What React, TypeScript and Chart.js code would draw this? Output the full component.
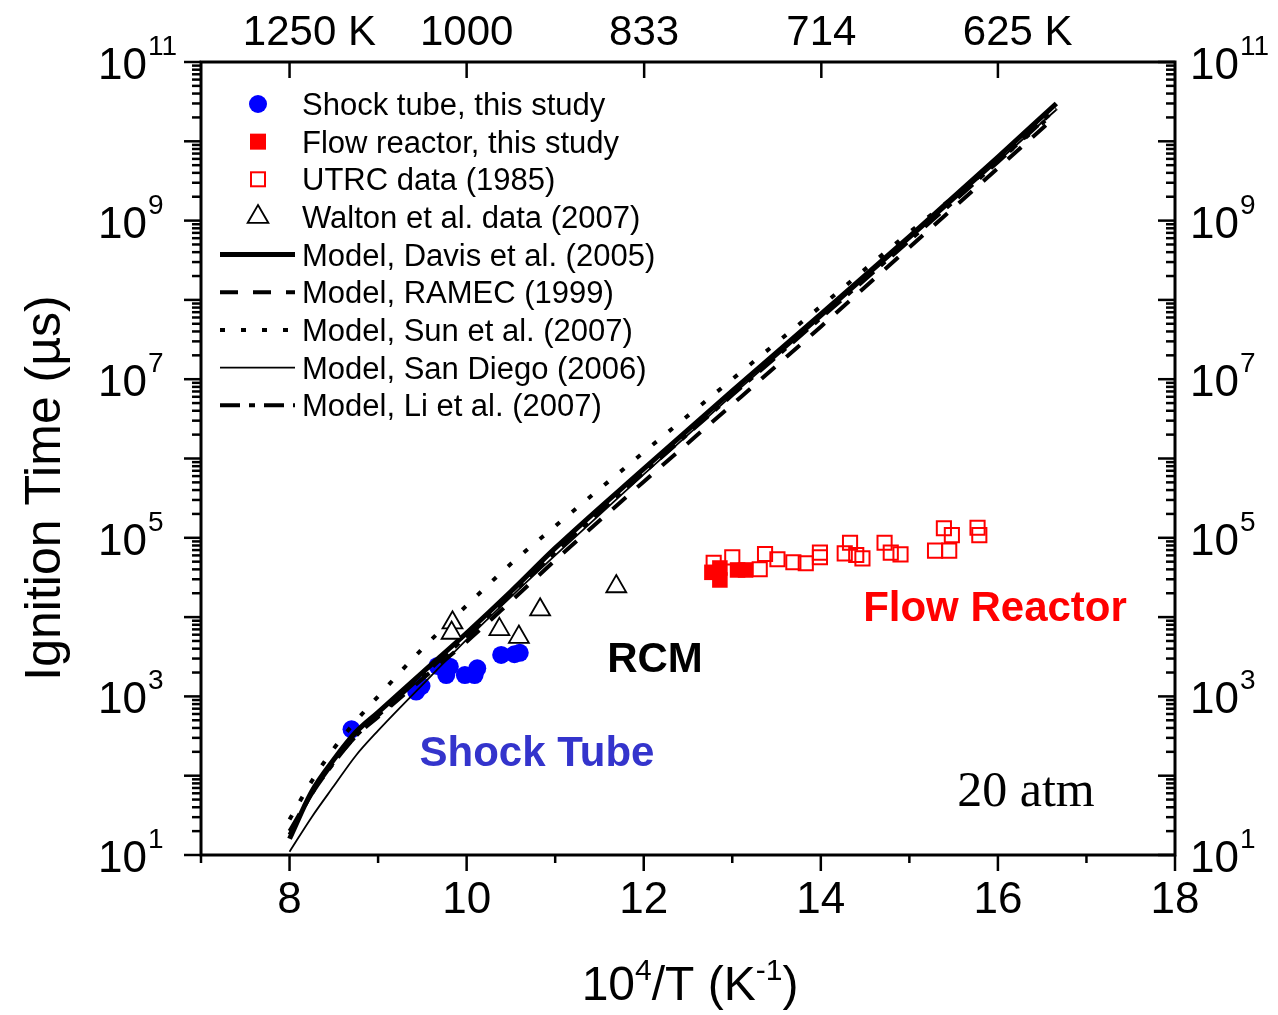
import React, { useEffect, useRef } from 'react';
import { Chart, registerables } from 'chart.js';

Chart.register(...registerables);

// ---------- data (10^4/T in K^-1, ignition time in µs) ----------
const shockX = [8.70, 9.43, 9.49, 9.67, 9.77, 9.81, 9.98, 10.09, 10.12, 10.39, 10.54, 10.60];
const shockY = [385, 1150, 1350, 2420, 1860, 2370, 1860, 1860, 2260, 3330, 3400, 3540];

const flowX = [12.77, 12.86, 12.86, 13.06, 13.15];
const flowY = [36700, 29400, 41600, 39300, 39300];

const utrcX = [12.79, 13.00, 13.31, 13.37, 13.51, 13.69, 13.83, 13.99, 13.99, 14.27, 14.33, 14.40, 14.47, 14.72, 14.79, 14.90, 15.29, 15.39, 15.45, 15.48, 15.77, 15.79];
const utrcY = [48500, 56700, 40100, 62500, 53600, 49100, 47700, 64900, 56800, 63700, 86700, 60700, 55100, 86700, 64900, 61900, 68800, 132000, 68800, 108000, 134000, 108000];

const waltonX = [9.84, 9.83, 10.37, 10.59, 10.83, 11.69];
const waltonY = [8500, 6300, 7000, 5600, 12400, 24300];

const modelX = [8.0, 8.25, 8.5, 8.75, 9.0, 9.5, 10.0, 10.5, 11.0, 12.0, 13.0, 14.0, 15.0, 16.0, 16.66];
const davisY = [16, 63, 160, 355, 630, 2000, 6300, 21000, 74000, 7.4e5, 7.1e6, 6.6e7, 6.3e8, 6.3e9, 3.0e10];
const ramecY = [18, 59, 148, 316, 550, 1660, 4900, 15800, 52000, 5.1e5, 4.8e6, 4.6e7, 4.6e8, 4.6e9, 2.1e10];
const sunY = [28, 85, 220, 490, 1000, 4000, 14000, 47000, 1.4e5, 1.2e6, 1.0e7, 8.3e7, 7.1e8, 5.6e9, 2.4e10];
const sanDiegoY = [11, 30, 74, 180, 370, 1400, 5200, 18000, 60000, 6.3e5, 6.3e6, 6.0e7, 5.8e8, 5.6e9, 2.5e10];
const liY = [20, 59, 145, 316, 575, 1820, 5750, 19000, 66000, 6.6e5, 6.3e6, 5.9e7, 5.6e8, 5.5e9, 2.6e10];

const xTicks = [8, 10, 12, 14, 16, 18];
const yLabelExps = [1, 3, 5, 7, 9, 11];
const topTemps = [1250, 1000, 833, 714, 625];
const topLabels = ['1250', '1000', '833', '714', '625'];

const legendLabels = [
  'Shock tube, this study',
  'Flow reactor, this study',
  'UTRC data (1985)',
  'Walton et al. data (2007)',
  'Model, Davis et al. (2005)',
  'Model, RAMEC (1999)',
  'Model, Sun et al. (2007)',
  'Model, San Diego (2006)',
  'Model, Li et al. (2007)',
];

const SANS = '"Liberation Sans", Arial, sans-serif';
const SERIF = '"Liberation Serif", "Times New Roman", serif';

const pts = (xs: number[], ys: number[]) => xs.map((x, i) => ({ x, y: ys[i] }));

const overlay = {
  id: 'overlay',
  afterDatasetsDraw(chart: any) {
    const ctx: CanvasRenderingContext2D = chart.ctx;
    const { left, right, top, bottom } = chart.chartArea;
    const xs = chart.scales.x;
    const ys = chart.scales.y;
    const line = (x1: number, y1: number, x2: number, y2: number) => {
      ctx.beginPath();
      ctx.moveTo(x1, y1);
      ctx.lineTo(x2, y2);
      ctx.stroke();
    };
    ctx.save();
    ctx.strokeStyle = '#000';
    ctx.fillStyle = '#000';
    ctx.lineCap = 'butt';
    ctx.setLineDash([]);

    // ticks on y axes
    ctx.lineWidth = 2.5;
    for (let e = 1; e <= 11; e++) {
      const py = ys.getPixelForValue(Math.pow(10, e));
      line(left - 17, py, left, py);
      line(right, py, right - 17, py);
      if (e < 11) {
        for (let m = 2; m <= 9; m++) {
          const p = ys.getPixelForValue(m * Math.pow(10, e));
          line(left - 9, p, left, p);
          line(right, p, right - 9, p);
        }
      }
    }
    // bottom ticks
    for (let v = 7; v <= 18; v++) {
      const px = xs.getPixelForValue(v);
      line(px, bottom, px, bottom + (v % 2 === 0 ? 16 : 8));
    }
    // top ticks
    topTemps.forEach((T) => {
      const px = xs.getPixelForValue(1e4 / T);
      line(px, top, px, top + 16);
    });
    // frame
    ctx.lineWidth = 3;
    ctx.strokeRect(left, top, right - left, bottom - top);

    // bottom labels
    ctx.font = `44px ${SANS}`;
    ctx.textAlign = 'center';
    ctx.textBaseline = 'alphabetic';
    xTicks.forEach((v) => {
      ctx.fillText(String(v), xs.getPixelForValue(v), 913);
    });
    // top labels
    ctx.font = `42px ${SANS}`;
    topTemps.forEach((T, i) => {
      const px = xs.getPixelForValue(1e4 / T);
      const lab = topLabels[i];
      ctx.textAlign = 'center';
      ctx.fillText(lab, px, 45);
      if (i === 0 || i === topTemps.length - 1) {
        const w = ctx.measureText(lab).width;
        ctx.textAlign = 'left';
        ctx.fillText(' K', px + w / 2, 45);
      }
    });
    // y labels with superscripts
    ctx.textAlign = 'left';
    yLabelExps.forEach((e) => {
      const py = ys.getPixelForValue(Math.pow(10, e));
      [98, 1190].forEach((x0) => {
        ctx.font = `44px ${SANS}`;
        ctx.fillText('10', x0, py + 17);
        const w = ctx.measureText('10').width;
        ctx.font = `28px ${SANS}`;
        ctx.fillText(String(e), x0 + w + 1, py - 7);
      });
    });

    // axis titles
    ctx.save();
    ctx.translate(60, 488);
    ctx.rotate(-Math.PI / 2);
    ctx.font = `50px ${SANS}`;
    ctx.textAlign = 'center';
    ctx.fillText('Ignition Time (µs)', 0, 0);
    ctx.restore();

    const parts: [string, boolean][] = [['10', false], ['4', true], ['/T (K', false], ['-1', true], [')', false]];
    const bigF = `48px ${SANS}`;
    const supF = `30px ${SANS}`;
    let total = 0;
    parts.forEach(([t, sup]) => {
      ctx.font = sup ? supF : bigF;
      total += ctx.measureText(t).width;
    });
    let cx = 690 - total / 2;
    ctx.textAlign = 'left';
    parts.forEach(([t, sup]) => {
      ctx.font = sup ? supF : bigF;
      ctx.fillText(t, cx, sup ? 980 : 1000);
      cx += ctx.measureText(t).width;
    });

    // legend
    const rowY0 = 104;
    const step = 37.65;
    const symX = 258;
    ctx.font = `31px ${SANS}`;
    legendLabels.forEach((lab, i) => {
      const yy = rowY0 + i * step;
      ctx.fillStyle = '#000';
      ctx.textAlign = 'left';
      ctx.fillText(lab, 302, yy + 11);
      const ds = chart.data.datasets[i];
      ctx.save();
      if (i === 0) {
        ctx.fillStyle = ds.backgroundColor;
        ctx.beginPath();
        ctx.arc(symX, yy, 9, 0, Math.PI * 2);
        ctx.fill();
      } else if (i === 1) {
        ctx.fillStyle = ds.backgroundColor;
        ctx.fillRect(symX - 8, yy - 8, 16, 16);
      } else if (i === 2) {
        ctx.strokeStyle = ds.borderColor;
        ctx.lineWidth = 2;
        ctx.strokeRect(symX - 7, yy - 7, 14, 14);
      } else if (i === 3) {
        ctx.strokeStyle = ds.borderColor;
        ctx.lineWidth = 1.8;
        const r = 12;
        ctx.beginPath();
        ctx.moveTo(symX, yy - r);
        ctx.lineTo(symX + r * 0.866, yy + r / 2);
        ctx.lineTo(symX - r * 0.866, yy + r / 2);
        ctx.closePath();
        ctx.stroke();
      } else {
        ctx.strokeStyle = ds.borderColor;
        ctx.lineWidth = ds.borderWidth;
        ctx.setLineDash(ds.borderDash || []);
        line(220, yy, 295, yy);
      }
      ctx.restore();
    });

    // annotations
    ctx.textAlign = 'center';
    ctx.font = `bold 42px ${SANS}`;
    ctx.fillStyle = '#3434CC';
    ctx.fillText('Shock Tube', 537, 766);
    ctx.fillStyle = '#000';
    ctx.fillText('RCM', 655, 672);
    ctx.fillStyle = '#FF0000';
    ctx.fillText('Flow Reactor', 995, 621);
    ctx.fillStyle = '#000';
    ctx.font = `50px ${SERIF}`;
    ctx.fillText('20 atm', 1026, 806);
    ctx.restore();
  },
};

export default function App() {
  const ref = useRef<HTMLCanvasElement | null>(null);
  useEffect(() => {
    if (!ref.current) return;
    const lineDs = (label: string, ys: number[], width: number, dash: number[], order: number) => ({
      label,
      type: 'line' as const,
      data: pts(modelX, ys),
      borderColor: '#000',
      backgroundColor: '#000',
      borderWidth: width,
      borderDash: dash,
      pointRadius: 0,
      fill: false,
      showLine: true,
      cubicInterpolationMode: 'monotone' as const,
      order,
    });
    const chart = new Chart(ref.current, {
      type: 'scatter',
      data: {
        datasets: [
          {
            label: legendLabels[0],
            data: pts(shockX, shockY),
            pointStyle: 'circle',
            pointRadius: 9,
            backgroundColor: '#0000FF',
            borderColor: '#0000FF',
            borderWidth: 0,
            order: 2,
          },
          {
            label: legendLabels[1],
            data: pts(flowX, flowY),
            pointStyle: 'rect',
            pointRadius: 11,
            backgroundColor: '#FF0000',
            borderColor: '#FF0000',
            borderWidth: 0,
            order: 2,
          },
          {
            label: legendLabels[2],
            data: pts(utrcX, utrcY),
            pointStyle: 'rect',
            pointRadius: 10,
            backgroundColor: 'rgba(255,255,255,0)',
            borderColor: '#FF0000',
            borderWidth: 2,
            order: 2,
          },
          {
            label: legendLabels[3],
            data: pts(waltonX, waltonY),
            pointStyle: 'triangle',
            pointRadius: 11.5,
            backgroundColor: '#FFFFFF',
            borderColor: '#000000',
            borderWidth: 1.8,
            order: 0,
          },
          lineDs(legendLabels[4], davisY, 5, [], 1),
          lineDs(legendLabels[5], ramecY, 4, [18, 15], 1),
          lineDs(legendLabels[6], sunY, 4, [5, 16], 1),
          lineDs(legendLabels[7], sanDiegoY, 1.8, [], 1),
          lineDs(legendLabels[8], liY, 4, [20, 9, 6, 9], 1),
        ] as any,
      },
      options: {
        animation: false,
        responsive: false,
        maintainAspectRatio: false,
        devicePixelRatio: 1,
        events: [],
        layout: { padding: { left: 201, right: 103, top: 62, bottom: 160 } },
        plugins: { legend: { display: false }, tooltip: { enabled: false } },
        scales: {
          x: { type: 'linear', min: 7, max: 18, display: false },
          y: { type: 'logarithmic', min: 10, max: 1e11, display: false },
        },
      } as any,
      plugins: [overlay],
    });
    return () => chart.destroy();
  }, []);
  return (
    <div style={{ position: 'fixed', left: 0, top: 0, width: 1278, height: 1015, background: '#fff' }}>
      <canvas ref={ref} width={1278} height={1015} style={{ display: 'block', width: 1278, height: 1015 }} />
    </div>
  );
}
